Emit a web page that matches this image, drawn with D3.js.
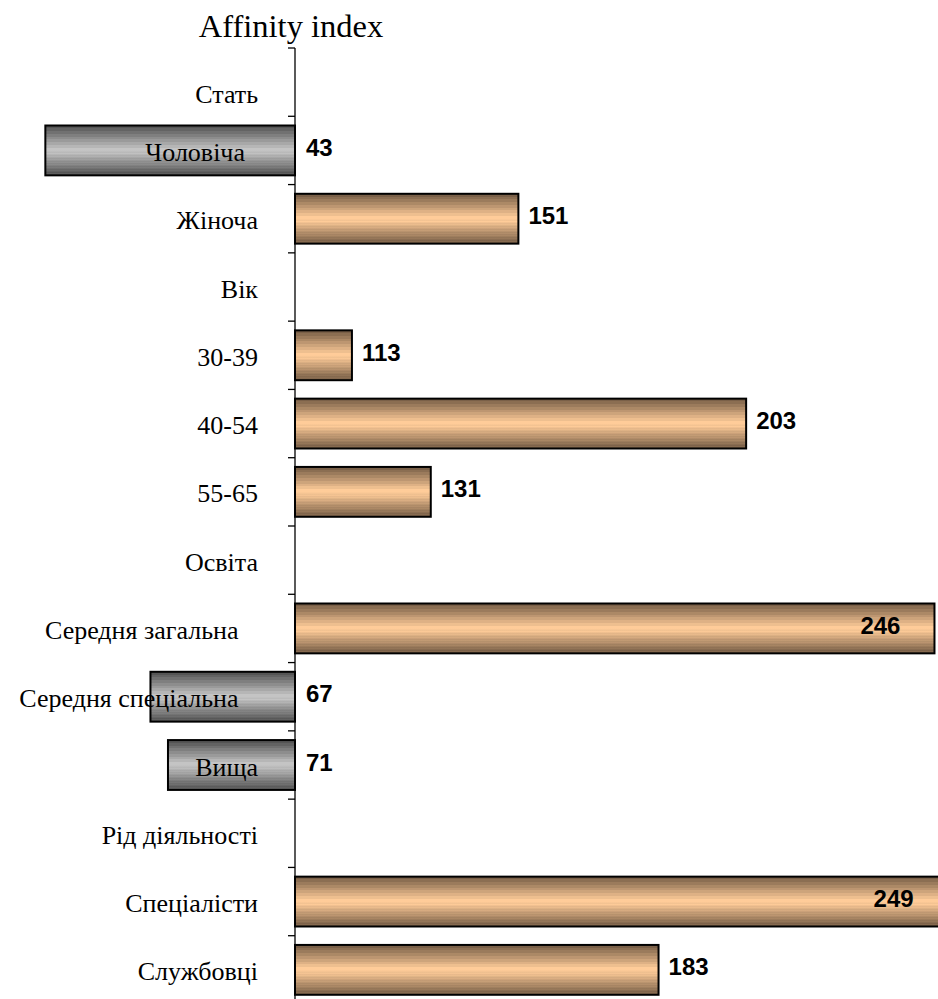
<!DOCTYPE html>
<html>
<head>
<meta charset="utf-8">
<script src="https://cdn.jsdelivr.net/npm/d3@7"></script>
<style>
  html, body { margin: 0; padding: 0; background: #fff; }
  svg { display: block; }
  .cat { font-family: "Liberation Serif", "Times New Roman", serif; font-size: 26px; fill: #000; white-space: pre; }
  .val { font-family: "Liberation Sans", Arial, sans-serif; font-size: 24px; font-weight: bold; fill: #000; }
  .title { font-family: "Liberation Serif", "Times New Roman", serif; font-size: 32.5px; fill: #000; }
</style>
</head>
<body>
<svg id="chart" width="938" height="999"></svg>
<script>
// Category labels (group headers have no value)
const categories = [
  "Стать", "Чоловіча  ", "Жіноча", "Вік", "30-39", "40-54", "55-65",
  "Освіта", "Середня загальна   ", "Середня спеціальна   ", "Вища",
  "Рід діяльності", "Спеціалісти", "Службовці"
];
// Affinity index per category (null = section header)
const values = [null, 43, 151, null, 113, 203, 131, null, 246, 67, 71, null, 249, 183];
// Index base: bars grow from this value
const baseline = 100;
const titleText = "Affinity index";

const W = 938, H = 999;
const svg = d3.select("#chart");

const x = d3.scaleLinear().domain([0, 250]).range([-143, 952]);
const y = d3.scaleBand().domain(categories).range([48, 1004]).paddingInner(0.27).paddingOuter(0.135);
const yTicks = d3.scaleBand().domain(categories).range([48, 1004]);

// Banded gradients (vertical, dark edges to light middle)
function bandedGradient(id, edge, mid) {
  const g = svg.append("defs").append("linearGradient")
    .attr("id", id).attr("x1", 0).attr("y1", 0).attr("x2", 0).attr("y2", 1);
  const n = 9;
  const ci = d3.interpolateRgb(edge, mid);
  const stops = [];
  for (let i = 0; i < n; i++) {
    const c = ci(i / (n - 1));
    const a = i / n * 0.5, b = (i + 1) / n * 0.5;
    stops.push([a, c], [b, c], [1 - b, c], [1 - a, c]);
  }
  stops.sort((p, q) => p[0] - q[0]);
  stops.forEach(([o, c]) => g.append("stop").attr("offset", o).attr("stop-color", c));
}
bandedGradient("gradUp", "#7a6048", "#ffcc99");
bandedGradient("gradDown", "#555555", "#c4c4c4");

const data = categories.map((c, i) => ({ cat: c, v: values[i] }));
const bars = data.filter(d => d.v != null);

// Bars
svg.append("g").selectAll("rect").data(bars).join("rect")
  .attr("x", d => Math.min(x(d.v), x(baseline)))
  .attr("y", d => y(d.cat))
  .attr("width", d => Math.abs(x(d.v) - x(baseline)))
  .attr("height", y.bandwidth())
  .attr("fill", d => d.v >= baseline ? "url(#gradUp)" : "url(#gradDown)")
  .attr("stroke", "#000")
  .attr("stroke-width", 2);

// Axis along the baseline
const axis = svg.append("g").attr("transform", `translate(${x(baseline)},0)`);
axis.append("line").attr("x1", 0).attr("x2", 0).attr("y1", 48).attr("y2", 1004)
  .attr("stroke", "#000").attr("stroke-width", 1.3);
axis.selectAll("line.tick").data(categories).join("line")
  .attr("class", "tick")
  .attr("x1", -7).attr("x2", 0)
  .attr("y1", d => yTicks(d))
  .attr("y2", d => yTicks(d))
  .attr("stroke", "#000").attr("stroke-width", 1.3);

// Category labels (drawn over the bars)
svg.append("g").selectAll("text").data(data).join("text")
  .attr("class", "cat")
  .attr("x", 258)
  .attr("y", (d, i) => y(d.cat) + y.bandwidth() / 2 + (i === 0 ? 12 : 2))
  .attr("text-anchor", "end")
  .attr("dominant-baseline", "central")
  .text(d => d.cat);

// Value labels
svg.append("g").selectAll("text").data(bars).join("text")
  .attr("class", "val")
  .attr("y", d => y(d.cat) + y.bandwidth() / 2 - 3)
  .attr("dominant-baseline", "central")
  .each(function (d) {
    const t = d3.select(this).text(d.v);
    const w = this.getComputedTextLength();
    if (d.v < baseline) {
      t.attr("x", x(baseline) + 11).attr("text-anchor", "start");
    } else if (x(d.v) + 10 + w > W) {
      t.attr("x", x(d.v) - 34).attr("text-anchor", "end");
    } else {
      t.attr("x", x(d.v) + 10).attr("text-anchor", "start");
    }
  });

// Title
svg.append("text").attr("class", "title")
  .attr("x", 291).attr("y", 37).attr("text-anchor", "middle")
  .text(titleText);
</script>
</body>
</html>
